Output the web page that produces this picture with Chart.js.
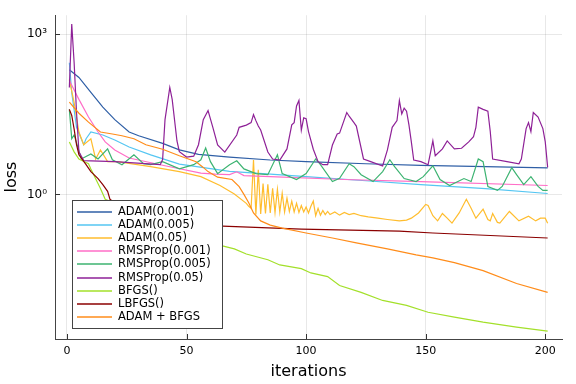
<!DOCTYPE html>
<html>
<head>
<meta charset="utf-8">
<script src="https://cdn.jsdelivr.net/npm/chart.js@4.4.0/dist/chart.umd.min.js"></script>
<style>
  html, body { margin: 0; padding: 0; background: #fff; }
</style>
</head>
<body>
<canvas id="lossChart" width="576" height="384"></canvas>
<script>
// series names (legend order)
const seriesNames = ["ADAM(0.001)", "ADAM(0.005)", "ADAM(0.05)", "RMSProp(0.001)", "RMSProp(0.005)",
  "RMSProp(0.05)", "BFGS()", "LBFGS()", "ADAM + BFGS"];

// values: iteration -> loss
const adam1Iter = [1, 5, 10, 15, 20, 26, 30, 40, 47, 55, 68, 85, 100, 125, 148, 175, 201];
const adam1Loss = [215, 154, 81, 43, 25, 14.7, 12.5, 9, 6.8, 5.6, 5.0, 4.4, 4.1, 3.75, 3.5, 3.3, 3.15];

const adam2Iter = [1, 2, 4, 7, 8, 10, 15, 20, 26, 35, 47, 68, 85, 100, 125, 148, 175, 201];
const adam2Loss = [290, 80, 18, 8.5, 11, 14.7, 12.9, 10.4, 7.7, 5.5, 3.7, 2.7, 2.4, 2.15, 1.8, 1.53, 1.28, 1.04];

const adam3Iter = [1, 3, 5, 7, 10, 12, 14, 17, 21, 35, 47, 56, 64, 70, 75, 76, 77,
  78, 79, 80, 81, 82, 83, 84, 85, 86, 87, 88, 89, 90, 91, 92, 93, 94, 95, 96, 97, 98, 99, 100,
  101, 102, 103, 104, 105, 106, 107, 108, 109, 110, 112, 114, 116, 118, 120, 123, 126, 130, 134,
  139, 142, 144, 147, 150, 151, 153, 155, 157, 159, 161, 164, 167, 169, 171, 174, 176, 177, 178,
  180, 181, 185, 189, 193, 196, 198, 200, 201];
const adam3Loss = [140, 52, 14.7, 8.5, 11, 4.6, 6.8, 4.1, 4.1, 3.3, 2.67, 2.15, 1.47, 1.02, 0.68, 0.6, 0.55,
  4.4, 0.42, 2.9, 0.43, 1.6, 0.44, 1.55, 0.45, 1.3, 0.46, 1.25, 0.47, 1.05, 0.47, 0.85, 0.48, 0.75, 0.47, 0.68, 0.46, 0.62, 0.47, 0.58,
  0.45, 0.6, 0.75, 0.4, 0.55, 0.41, 0.5, 0.42, 0.48, 0.42, 0.47, 0.41, 0.46, 0.42, 0.44, 0.4, 0.38, 0.36, 0.34,
  0.32, 0.33, 0.36, 0.45, 0.65, 0.62, 0.4, 0.32, 0.44, 0.36, 0.29, 0.45, 0.81, 0.55, 0.36, 0.53, 0.34, 0.32, 0.44,
  0.3, 0.29, 0.48, 0.32, 0.39, 0.32, 0.36, 0.36, 0.29];

const rms1Iter = [1, 5, 9, 13, 16, 20, 26, 41, 56, 62, 68, 71, 74, 85, 116, 148, 201];
const rms1Loss = [135, 60, 28, 14.7, 9.6, 6.8, 4.8, 3.44, 2.5, 2.4, 2.35, 2.65, 2.25, 2.15, 1.9, 1.74, 1.47];

const rms2Iter = [1, 2, 3, 6, 10, 13, 17, 19, 23, 28, 32, 35, 40, 47, 53, 56, 58, 60, 63, 68, 71, 74, 79,
  84, 88, 90, 96, 100, 104, 106, 111, 114, 118, 120, 123, 128, 132, 135, 137, 141, 146, 149, 153,
  156, 160, 166, 169, 172, 174, 176, 180, 182, 186, 188, 191, 194, 197, 199, 201];
const rms2Loss = [39, 11, 13, 4.6, 5.7, 4.6, 7.1, 4.45, 3.6, 5.5, 3.75, 3.6, 4.1, 3.0, 3.6, 4.45, 7.4, 4.1, 2.45, 3.6, 4.26, 3.0, 2.45,
  2.34, 5.5, 2.45, 1.9, 2.45, 4.6, 3.6, 1.74, 2.0, 3.75, 3.3, 2.34, 1.74, 2.67, 4.45, 3.3, 1.98, 1.74, 2.15, 3.44,
  1.9, 1.47, 1.98, 1.74, 4.6, 4.1, 1.41, 1.19, 1.41, 3.16, 2.34, 1.53, 2.15, 1.41, 1.19, 1.19];

const rms3Iter = [1, 2, 3, 4, 5, 7, 20, 39, 40, 41, 43, 44, 46, 47, 50, 53, 55, 57, 59, 61, 63, 66, 71, 72,
  75, 77, 78, 79, 80, 81, 84, 86, 89, 92, 94, 95, 96, 97, 98, 99, 100, 101, 103, 105, 107, 109, 111, 113,
  114, 117, 118, 120, 121, 124, 127, 132, 134, 136, 138, 139, 140, 141, 142, 143, 144, 145, 148, 151,
  153, 154, 157, 159, 162, 165, 168, 170, 171, 172, 174, 176, 177, 178, 184, 189, 190, 192, 193, 194,
  195, 197, 199, 200, 201];
const rms3Loss = [100, 1530, 290, 34, 6.3, 4.3, 4.1, 3.6, 4.5, 25, 100, 60, 10, 6.3, 5.0, 5.2, 8.5, 25, 37, 18, 8.4, 6.2, 12.9, 18,
  19.8, 22, 31, 24, 19, 16, 6.2, 4.6, 4.4, 7.1, 20, 22, 45, 57, 16, 27, 26, 15, 7, 4.1, 3.6, 3.6, 8.4, 13.5,
  14, 34, 29, 22, 19, 4.6, 4.1, 3.4, 6.8, 18, 24, 57, 32, 41, 36, 20, 9.6, 4.4, 4.1, 3.6,
  10, 5.3, 7.1, 10, 7.1, 7.3, 9.6, 12, 18, 43, 39, 36, 15, 4.6, 4.1, 3.75, 4.6, 17, 22, 15,
  34, 28, 17, 9.6, 3.2];

const bfgsIter = [1, 3, 5, 9, 10, 12, 14, 16, 25, 35, 45, 55, 65, 70, 75, 84, 89, 98, 102, 109, 114, 123,
  132, 142, 151, 162, 174, 188, 201];
const bfgsLoss = [9.6, 6.25, 4.6, 3.75, 3.0, 1.97, 1.29, 0.81, 0.56, 0.37, 0.25, 0.165, 0.109, 0.096, 0.077, 0.06, 0.048, 0.041,
  0.034, 0.029, 0.0198, 0.0147, 0.0104, 0.0084, 0.00625, 0.00506, 0.00408, 0.0033, 0.00278];

const lbfgsIter = [1, 2, 3, 4, 5, 8, 10, 13, 15, 17, 18, 25, 35, 50, 65, 98, 139, 153, 201];
const lbfgsLoss = [39, 30, 16.7, 8.5, 5.5, 3.6, 2.67, 1.98, 1.53, 1.14, 0.81, 0.45, 0.32, 0.27, 0.255, 0.225, 0.206, 0.19, 0.153];

const hybridIter = [1, 5, 9, 14, 19, 23, 28, 33, 40, 47, 54, 57, 59, 63, 69, 72, 74, 76, 78, 81, 85, 90,
  100, 111, 121, 134, 146, 153, 162, 174, 188, 201];
const hybridLoss = [53, 33, 22.5, 14.7, 13.5, 12.5, 11, 8.5, 7.0, 5.3, 4.1, 3.2, 2.67, 2.1, 1.9, 1.4, 1.0, 0.7, 0.45, 0.32, 0.267, 0.235,
  0.19, 0.153, 0.124, 0.096, 0.074, 0.065, 0.053, 0.0375, 0.0216, 0.0147];

const xTickValues = [0, 50, 100, 150, 200];
const yTickValues = [1, 1000];
const yTickLabels = ["10\u2070", "10\u00b3"];

const allIters = [adam1Iter, adam2Iter, adam3Iter, rms1Iter, rms2Iter, rms3Iter, bfgsIter, lbfgsIter, hybridIter];
const allLosses = [adam1Loss, adam2Loss, adam3Loss, rms1Loss, rms2Loss, rms3Loss, bfgsLoss, lbfgsLoss, hybridLoss];
const lineColors = ["#2f5fa6", "#55c6f2", "#ffbd2e", "#ff6ec7", "#3cb371", "#8e2197", "#a3e02a", "#8b0000", "#ff8c1a"];

const font = "'DejaVu Sans', sans-serif";

let dataSets = [];
for (let i = 0; i < seriesNames.length; i++) {
  let pts = [];
  for (let j = 0; j < allIters[i].length; j++) {
    pts.push({ x: allIters[i][j], y: allLosses[i][j] });
  }
  dataSets.push({
    label: seriesNames[i],
    data: pts,
    borderColor: lineColors[i],
    backgroundColor: lineColors[i],
    borderWidth: 1.2,
    pointRadius: 0,
    tension: 0,
    order: seriesNames.length - i,
  });
}

// tick marks pointing into the plot, like the original
const innerTicks = {
  id: "innerTicks",
  afterDatasetsDraw(chart) {
    const ctx = chart.ctx;
    const a = chart.chartArea;
    ctx.save();
    ctx.strokeStyle = "#333";
    ctx.lineWidth = 1;
    chart.scales.x.ticks.forEach((t) => {
      const px = Math.round(chart.scales.x.getPixelForValue(t.value)) + 0.5;
      ctx.beginPath();
      ctx.moveTo(px, a.bottom);
      ctx.lineTo(px, a.bottom - 5);
      ctx.stroke();
    });
    chart.scales.y.ticks.forEach((t) => {
      const py = Math.round(chart.scales.y.getPixelForValue(t.value)) + 0.5;
      ctx.beginPath();
      ctx.moveTo(a.left, py);
      ctx.lineTo(a.left + 5, py);
      ctx.stroke();
    });
    ctx.restore();
  },
};

// legend box inside the plot, bottom left
const boxLegend = {
  id: "boxLegend",
  afterDatasetsDraw(chart) {
    const ctx = chart.ctx;
    const a = chart.chartArea;
    const x0 = a.left + 17;
    const y0 = a.bottom - 139;
    const w = 150;
    const h = 128;
    ctx.save();
    ctx.fillStyle = "#fff";
    ctx.fillRect(x0, y0, w, h);
    ctx.strokeStyle = "#444";
    ctx.lineWidth = 1;
    ctx.strokeRect(x0 + 0.5, y0 + 0.5, w, h);
    ctx.font = "11.5px " + font;
    ctx.textBaseline = "middle";
    for (let i = 0; i < seriesNames.length; i++) {
      const y = Math.round(y0 + 12 + i * 13.1);
      ctx.strokeStyle = lineColors[i];
      ctx.lineWidth = 1.5;
      ctx.beginPath();
      ctx.moveTo(x0 + 5, y);
      ctx.lineTo(x0 + 40, y);
      ctx.stroke();
      ctx.fillStyle = "#000";
      ctx.fillText(seriesNames[i], x0 + 46, y);
    }
    ctx.restore();
  },
};

const ctx1 = document.getElementById("lossChart").getContext("2d");
const lossChart = new Chart(ctx1, {
  type: "line",
  data: { datasets: dataSets },
  options: {
    responsive: false,
    animation: false,
    devicePixelRatio: 1,
    layout: { padding: { top: 12, right: 14, left: 0, bottom: 0 } },
    plugins: { legend: { display: false }, tooltip: { enabled: false } },
    scales: {
      x: {
        type: "linear",
        min: -5,
        max: 207,
        bounds: "data",
        afterBuildTicks: (scale) => {
          scale.ticks = xTickValues.map((v) => ({ value: v }));
        },
        afterFit: (scale) => {
          scale.height = 45;
        },
        grid: { color: "rgba(0,0,0,0.09)", drawTicks: false },
        border: { display: true, color: "#444", width: 1 },
        ticks: { color: "#000", font: { family: font, size: 11 }, padding: 6, maxRotation: 0 },
        title: { display: true, text: "iterations", color: "#000", font: { family: font, size: 16 }, padding: { bottom: 3 } },
      },
      y: {
        type: "logarithmic",
        min: 0.001977,
        max: 2249,
        bounds: "data",
        afterBuildTicks: (scale) => {
          scale.ticks = yTickValues.map((v) => ({ value: v }));
        },
        afterFit: (scale) => {
          scale.width = 55;
        },
        grid: { color: "rgba(0,0,0,0.09)", drawTicks: false },
        border: { display: true, color: "#444", width: 1 },
        ticks: {
          color: "#000",
          font: { family: font, size: 12 },
          padding: 8,
          callback: (v) => yTickLabels[yTickValues.indexOf(v)],
        },
        title: { display: true, text: "loss", color: "#000", font: { family: font, size: 16 }, padding: { top: 2 } },
      },
    },
  },
  plugins: [innerTicks, boxLegend],
});
</script>
</body>
</html>
